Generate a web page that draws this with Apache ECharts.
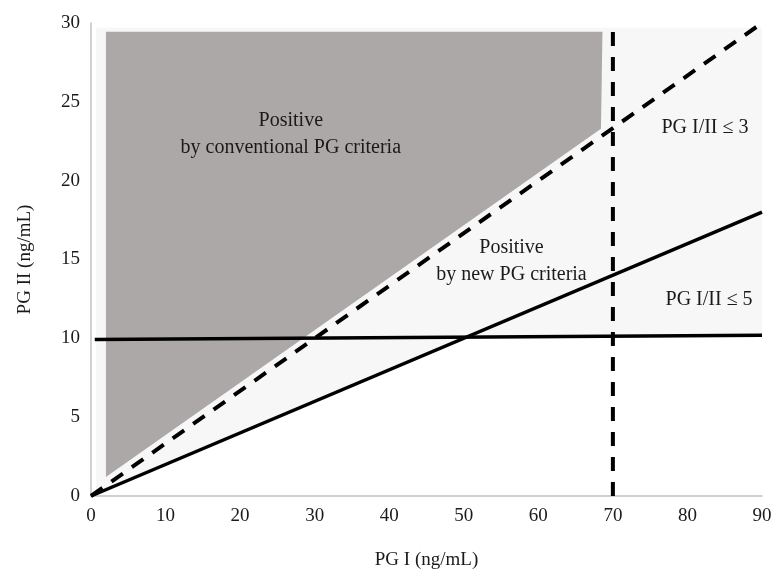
<!DOCTYPE html>
<html>
<head>
<meta charset="utf-8">
<script src="https://cdn.jsdelivr.net/npm/echarts@6/dist/echarts.min.js"></script>
<style>html,body{margin:0;padding:0;background:#fff}#c{width:777px;height:575px}</style>
</head>
<body>
<div id="c"></div>
<script>
// Axis ticks
const xTicks = [0, 10, 20, 30, 40, 50, 60, 70, 80, 90];
const yTicks = [0, 5, 10, 15, 20, 25, 30];
// Light shaded region (positive by new criteria area)
const lightRegion = [[0.7, 29.7], [90, 29.7], [90, 10.2], [50.5, 10.1], [0.7, 0.14]];
// Dark shaded region (positive by conventional criteria)
const darkRegion = [[2, 1.2], [2, 29.45], [68.6, 29.45], [68.4, 23.3]];
// Lines
const ratio3Line = [[0, 0], [90, 30]];        // PG I/II = 3 (dashed)
const ratio5Line = [[0, 0], [90, 18]];        // PG I/II = 5 (solid)
const pg2Line = [[0.5, 9.92], [90, 10.2]];    // PG II = 10 (solid)
const pg1Line = [[70, 0], [70, 29.7]];        // PG I = 70 (dashed)
// Annotations [x, y, text]
const notes = [
  [26.8, 22.95, 'Positive\nby conventional PG criteria'],
  [56.4, 14.9, 'Positive\nby new PG criteria'],
  [82.35, 23.35, 'PG I/II \u2264 3'],
  [82.9, 12.43, 'PG I/II \u2264 5']
];

const FONT = '"Liberation Serif", "DejaVu Serif", serif';
const chart = echarts.init(document.getElementById('c'));

function polySeries(points, color, z) {
  return {
    type: 'custom', silent: true, z: z,
    encode: { x: 0, y: 1 },
    data: points,
    renderItem: function (params, api) {
      if (params.dataIndex !== 0) return;
      const pts = points.map(p => api.coord(p));
      return { type: 'polygon', shape: { points: pts }, style: { fill: color } };
    }
  };
}
function lineSeries(data, dashed, width) {
  return {
    type: 'line', data: data, symbol: 'none', silent: true, z: 5,
    lineStyle: { color: '#000', width: width, type: dashed ? [14, 11] : 'solid', cap: 'butt' },
    animation: false
  };
}

chart.setOption({
  animation: false,
  grid: { left: 91, right: 15, top: 23, bottom: 74 },
  xAxis: {
    type: 'value', min: xTicks[0], max: xTicks[xTicks.length - 1], interval: 10,
    name: 'PG I (ng/mL)', nameLocation: 'middle', nameGap: 55,
    nameTextStyle: { fontFamily: FONT, fontSize: 19, color: '#1a1a1a' },
    axisLine: { lineStyle: { color: '#c4c0c0', width: 1.5 } },
    axisTick: { show: false }, splitLine: { show: false },
    axisLabel: { fontFamily: FONT, fontSize: 19, color: '#1a1a1a', margin: 11 }
  },
  yAxis: {
    type: 'value', min: yTicks[0], max: yTicks[yTicks.length - 1], interval: 5,
    name: 'PG II (ng/mL)', nameLocation: 'middle', nameGap: 56,
    nameTextStyle: { fontFamily: FONT, fontSize: 19, color: '#1a1a1a' },
    axisLine: { show: true, lineStyle: { color: '#c4c0c0', width: 1.5 } },
    axisTick: { show: false }, splitLine: { show: false },
    axisLabel: { fontFamily: FONT, fontSize: 19, color: '#1a1a1a', margin: 11 }
  },
  series: [
    polySeries(lightRegion, '#f7f7f7', 1),
    polySeries(darkRegion, '#aca8a7', 2),
    lineSeries(pg2Line, false, 3.5),
    lineSeries(ratio5Line, false, 3.5),
    lineSeries(ratio3Line, true, 4),
    lineSeries(pg1Line, true, 4),
    {
      type: 'custom', silent: true, z: 10,
      encode: { x: 0, y: 1 },
      data: notes,
      renderItem: function (params, api) {
        const p = api.coord([api.value(0), api.value(1)]);
        return {
          type: 'text', x: p[0], y: p[1],
          style: {
            text: notes[params.dataIndex][2],
            textAlign: 'center', textVerticalAlign: 'middle',
            font: '20px ' + FONT, fill: '#1a1a1a', lineHeight: 27
          }
        };
      }
    }
  ]
});
</script>
</body>
</html>
